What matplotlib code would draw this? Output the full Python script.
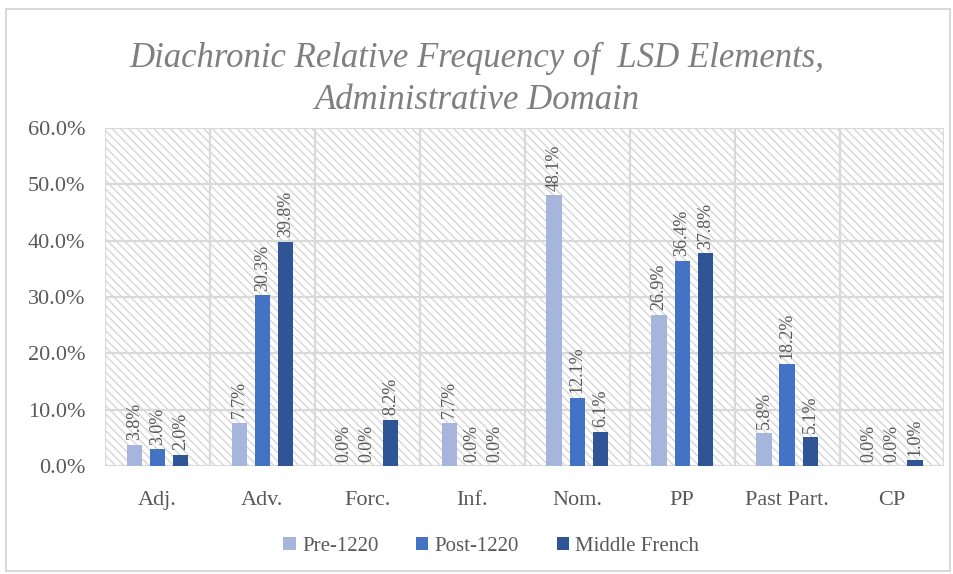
import numpy as np
import matplotlib.pyplot as plt
from matplotlib.patches import Rectangle

# dados
categories = ['Adj.', 'Adv.', 'Forc.', 'Inf.', 'Nom.', 'PP', 'Past Part.', 'CP']
pre_1220 = [3.8, 7.7, 0.0, 7.7, 48.1, 26.9, 5.8, 0.0]
post_1220 = [3.0, 30.3, 0.0, 0.0, 12.1, 36.4, 18.2, 0.0]
middle_french = [2.0, 39.8, 8.2, 0.0, 6.1, 37.8, 5.1, 1.0]
series_names = ['Pre-1220', 'Post-1220', 'Middle French']
colors = ['#a6b5dc', '#4472c4', '#2f5597']

plt.rcParams['font.family'] = ['Liberation Serif', 'DejaVu Serif']
plt.rcParams['hatch.linewidth'] = 1.0

text_color = '#595959'
grid_color = '#d9d9d9'

fig = plt.figure(figsize=(9.54, 5.74), dpi=100)
ax = fig.add_axes([0.110, 0.188, 0.880, 0.589])

# fundo tracejado
bg = Rectangle((0, 0), 1, 1, transform=ax.transAxes, facecolor='white',
               edgecolor='#d6d6d6', hatch='\\\\\\\\', linewidth=0, zorder=0)
ax.add_patch(bg)
ax.set_facecolor('white')

x = np.arange(len(categories))
width = 0.145
offset = 0.22
series = [pre_1220, post_1220, middle_french]
for i, (vals, name, c) in enumerate(zip(series, series_names, colors)):
    pos = x + (i - 1) * offset
    ax.bar(pos, vals, width, color=c, label=name, zorder=3)
    for p, v in zip(pos, vals):
        ax.text(p, v + 0.8, f'{v:.1f}%', rotation=90, ha='center', va='bottom',
                fontsize=13, color=text_color, zorder=4)

ax.set_xlim(-0.5, len(categories) - 0.5)
ax.set_ylim(0, 60)
ax.set_yticks(np.arange(0, 61, 10))
ax.set_yticklabels([f'{t:.1f}%' for t in np.arange(0, 61, 10)])
ax.set_xticks(x)
ax.set_xticklabels(categories)

# grelha horizontal e separadores verticais
for yv in np.arange(10, 61, 10):
    ax.axhline(yv, color=grid_color, lw=1.6, zorder=1)
for xv in np.arange(-0.5, len(categories), 1):
    ax.axvline(xv, color=grid_color, lw=1.6, zorder=1)

for s in ax.spines.values():
    s.set_visible(False)
ax.axhline(0, color=grid_color, lw=1.6, zorder=2)
ax.tick_params(axis='y', length=0, labelsize=16, colors=text_color, pad=14)
ax.tick_params(axis='x', length=0, labelsize=16, colors=text_color, pad=18)

fig.text(0.5, 0.862, 'Diachronic Relative Frequency of  LSD Elements,\nAdministrative Domain',
         ha='center', va='center', fontsize=25, style='italic', color='#7f7f7f',
         linespacing=1.35)

leg = fig.legend(loc='center', bbox_to_anchor=(0.515, 0.048), ncol=3, frameon=False,
                 fontsize=15, handlelength=0.6, handleheight=0.6, handletextpad=0.3,
                 columnspacing=1.8)
for t in leg.get_texts():
    t.set_color(text_color)

# moldura da figura
fig.patches.append(Rectangle((0.006, 0.005), 0.99, 0.98, transform=fig.transFigure,
                             fill=False, edgecolor='#d9d9d9', lw=1.5))

plt.savefig('out.png', dpi=100)
